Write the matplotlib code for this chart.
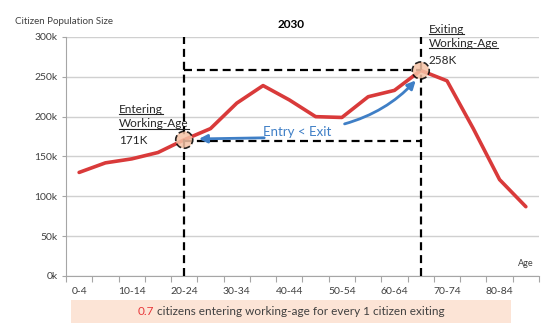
import matplotlib
matplotlib.use("Agg")
import matplotlib.pyplot as plt
from matplotlib.lines import Line2D
from matplotlib.patches import Rectangle

plt.rcParams["font.family"] = ["Lato", "DejaVu Sans"]

age_groups = ["0-4", "5-9", "10-14", "15-19", "20-24", "25-29", "30-34", "35-39",
              "40-44", "45-49", "50-54", "55-59", "60-64", "65-69", "70-74",
              "75-79", "80-84", "85-89"]
population = [130000, 142000, 147000, 155000, 171000, 185000, 217000, 239000,
              221000, 200000, 199000, 225000, 233000, 258000, 245000,
              185000, 121000, 87000]
y_ticks = [0, 50000, 100000, 150000, 200000, 250000, 300000]
y_tick_labels = ["0k", "50k", "100k", "150k", "200k", "250k", "300k"]
entry_idx, exit_idx = 4, 13
ratio_text = "0.7"

RED = "#D93A3A"
BLUE = "#3F7FC6"
PEACH = "#F6C3A6"
GREY = "#404040"

fig = plt.figure(figsize=(5.54, 3.36), dpi=100)
ax = fig.add_axes([0.1191, 0.1786, 0.8538, 0.7113])

x = list(range(len(age_groups)))
ax.set_xlim(-0.5, len(age_groups) - 0.5)
ax.set_ylim(0, 300000)

# grid + axes styling
ax.set_yticks(y_ticks)
ax.set_yticklabels(y_tick_labels)
ax.yaxis.grid(True, color="#D0D0D0", lw=1)
ax.set_axisbelow(True)
for s in ["top", "right"]:
    ax.spines[s].set_visible(False)
for s in ["left", "bottom"]:
    ax.spines[s].set_color("#A6A6A6")
ax.tick_params(axis="y", length=3, color="#A6A6A6", labelsize=7.5, labelcolor=GREY, pad=3)
ax.set_xticks([i - 0.5 for i in range(len(age_groups) + 1)])
ax.set_xticklabels([])
ax.tick_params(axis="x", which="major", length=4, color="#A6A6A6")
ax.set_xticks(x[::2], minor=True)
ax.set_xticklabels(age_groups[::2], minor=True)
ax.tick_params(axis="x", which="minor", length=0, labelsize=7.5, labelcolor=GREY, pad=8)

ax.plot(x, population, color=RED, lw=2.6, zorder=3, solid_capstyle="round")

# dashed guides
dash = dict(color="black", lw=1.6, ls=(0, (3.6, 2.2)), zorder=4, clip_on=False)
ax.plot([entry_idx, entry_idx], [0, 300000], **dash)
ax.plot([exit_idx, exit_idx], [0, 300000], **dash)
ax.plot([entry_idx, exit_idx], [population[exit_idx]] * 2, **dash)
ax.plot([entry_idx, exit_idx], [population[entry_idx] - 1000] * 2, **dash)

# arrows
ax.annotate("", xy=(entry_idx + 0.45, population[entry_idx] + 1000),
            xytext=(7.15, population[entry_idx] + 2500),
            arrowprops=dict(arrowstyle="-|>", color=BLUE, lw=2, mutation_scale=12),
            zorder=5)
ax.annotate("", xy=(exit_idx - 0.12, population[exit_idx] - 10000),
            xytext=(10.0, population[entry_idx] + 19000),
            arrowprops=dict(arrowstyle="-|>", color=BLUE, lw=2, mutation_scale=12,
                            connectionstyle="arc3,rad=0.15"),
            zorder=5)
ax.text(8.3, 181000, "Entry < Exit", color=BLUE, fontsize=9.5, ha="center", va="center")

# highlight circles
ax.scatter([entry_idx, exit_idx], [population[entry_idx], population[exit_idx]],
           s=150, facecolor=PEACH, alpha=0.85, edgecolor="black", linewidth=1.2,
           linestyle="--", zorder=6, clip_on=False)

# annotation text
lab = dict(fontsize=8.5, color="#262626", ha="left", va="center", clip_on=False)
t1 = ax.text(1.52, 209000, "Entering", **lab)
t2 = ax.text(1.52, 191000, "Working-Age", **lab)
ax.text(1.52, 170000, "171K", **lab)
t3 = ax.text(13.3, 310000, "Exiting", **lab)
t4 = ax.text(13.3, 292000, "Working-Age", **lab)
ax.text(13.3, 270000, "258K", **lab)

ax.text(0.988, 0.035, "Age", transform=ax.transAxes, fontsize=6.5, color=GREY,
        ha="right", va="bottom")
fig.text(0.027, 0.9375, "Citizen Population Size", fontsize=7, color=GREY,
         ha="left", va="center")
fig.text(0.526, 0.926, "2030", fontsize=8.5, weight="bold", color="black",
         ha="center", va="center")

# bottom banner
fig.add_artist(Rectangle((0.128, 0.0387), 0.794, 0.0685, transform=fig.transFigure,
                         facecolor="#FCE4D6", edgecolor="none"))
rest = " citizens entering working-age for every 1 citizen exiting"
fig.canvas.draw()
r = fig.canvas.get_renderer()
probe_a = fig.text(0, 0, ratio_text, fontsize=8.5)
probe_b = fig.text(0, 0, rest, fontsize=8.5)
wa = probe_a.get_window_extent(r).width
wb = probe_b.get_window_extent(r).width
probe_a.remove()
probe_b.remove()
W = fig.bbox.width
x0 = 0.525 - (wa + wb) / 2 / W
fig.text(x0, 0.0744, ratio_text, fontsize=8.5, color="#E8383A", ha="left", va="center")
fig.text(x0 + wa / W, 0.0744, rest, fontsize=8.5, color=GREY, ha="left", va="center")

# underlines
fig.canvas.draw()
for t in [t1, t2, t3, t4]:
    bb = t.get_window_extent(r)
    yy = (bb.y0 + 0.5) / fig.bbox.height
    fig.add_artist(Line2D([bb.x0 / W, bb.x1 / W], [yy, yy], transform=fig.transFigure,
                          color="#262626", lw=0.8))

fig.savefig("out.png", dpi=100)
